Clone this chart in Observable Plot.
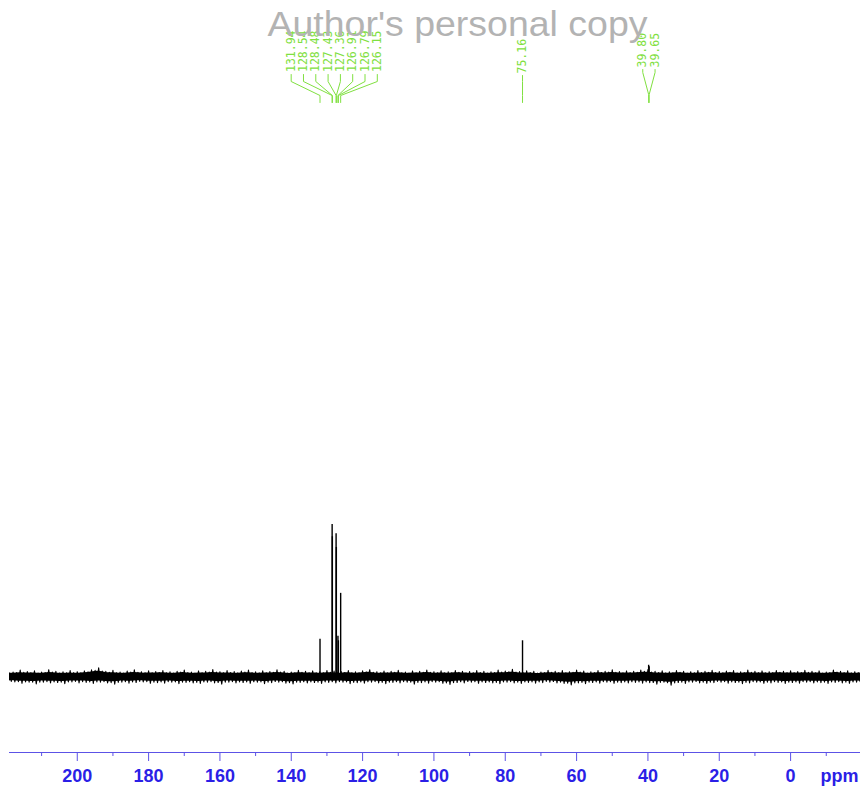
<!DOCTYPE html>
<html><head><meta charset="utf-8">
<script src="https://cdn.jsdelivr.net/npm/d3@7"></script>
<script src="https://cdn.jsdelivr.net/npm/@observablehq/plot@0.6"></script>
<style>body{margin:0;background:#fff}#chart{position:relative;width:860px;height:788px}</style>
</head><body><div id="chart"></div>
<script>
// ---- data ----
const peakPpm    = [131.94, 128.54, 128.48, 127.43, 127.36, 126.91, 126.79, 126.15, 75.16, 39.80, 39.65];
const peakHeight = [25, 100, 92, 94, 85, 27, 24, 55, 24, 8, 7];
const peakLabels = ["131.94","128.54","128.48","127.43","127.36","126.91","126.79","126.15","75.16","39.80","39.65"];
const peakGroup  = [0, 0, 0, 0, 0, 0, 0, 0, 1, 2, 2];

// baseline noise envelope, sampled every 2 ppm from 220 to -20
const noisePpm = d3.range(220, -21, -2);
const noiseUpper = [
  4.2,3.6,4.8,3.9,4.4,3.5,5.1,4.0,3.7,4.6,3.8,
  4.3,5.0,6.4,4.1,4.7,3.6,4.2,5.0,3.8,4.4,3.9,
  4.6,3.7,4.1,4.9,3.6,4.3,4.0,5.2,3.8,4.5,3.9,
  4.2,4.8,3.7,4.4,3.9,5.0,4.1,3.6,4.7,4.0,4.3,
  3.8,4.5,4.2,3.9,4.6,3.7,4.4,5.1,3.8,4.2,4.0,
  4.7,3.6,4.3,4.0,4.9,3.8,4.4,3.7,4.6,4.1,3.9,
  4.5,4.0,3.7,4.8,4.2,5.3,3.9,4.4,4.1,3.6,4.7,
  4.0,4.5,3.8,4.9,4.2,3.7,4.6,4.0,5.0,3.9,4.3,
  4.1,4.8,5.2,4.0,4.4,3.7,4.6,4.1,3.8,4.5,4.0,
  4.7,3.9,4.2,4.5,3.7,4.8,4.0,4.3,3.8,4.6,4.1,
  4.4,3.9,4.7,4.0,4.3,3.6,4.9,4.1,4.4,3.8,4.2
];
const noiseLower = [
  -3.4,-2.9,-3.8,-3.1,-4.2,-3.0,-3.6,-3.3,-4.0,-2.9,-3.5,
  -3.2,-3.9,-3.0,-3.6,-4.4,-3.1,-3.7,-3.3,-2.9,-3.8,-3.4,
  -3.7,-3.0,-4.1,-3.2,-3.6,-3.9,-3.1,-3.5,-4.3,-3.0,-3.6,
  -3.3,-3.8,-3.0,-4.0,-3.4,-3.1,-3.7,-4.2,-3.2,-3.6,-3.3,
  -3.9,-3.2,-3.6,-3.0,-4.1,-3.4,-3.7,-3.1,-3.5,-4.0,-3.2,
  -3.6,-3.1,-4.3,-3.4,-3.7,-3.0,-3.8,-4.6,-3.3,-3.5,-3.0,
  -3.8,-3.3,-3.6,-4.0,-3.1,-3.5,-3.9,-3.2,-3.7,-3.4,-3.0,
  -3.5,-3.9,-4.8,-3.6,-4.1,-3.3,-3.7,-3.0,-3.8,-3.4,-3.6,
  -3.2,-3.7,-3.4,-4.4,-3.1,-5.0,-3.3,-3.9,-3.0,-3.5,-3.8,
  -3.4,-3.0,-3.7,-3.3,-4.0,-3.5,-3.1,-3.8,-3.6,-3.2,-3.9,
  -3.3,-3.7,-3.0,-3.6,-3.4,-3.9,-3.2,-3.5,-3.8,-3.1,-3.6
];

const majorTicks = [200, 180, 160, 140, 120, 100, 80, 60, 40, 20, 0];
const minorTicks = [210, 190, 170, 150, 130, 110, 90, 70, 50, 30, 10, -10];
const axisUnit = "ppm";
const watermark = "Author's personal copy";

// ---- layout / style ----
const BASE_PX = 677, PX_PER_UNIT = 1.53, PLOT_BOTTOM = 752;
const yAt = p => (BASE_PX - p) / PX_PER_UNIT;
const green = "#80e040";
const axisText = "#2b1fe6";
const axisLine = "#5c52e6";
const labelSpacing = 3.45; // ppm between adjacent labels
const groupLayout = [
  {textBottom: 71.5, top: 74, knee1: 81, knee2: 95, bottom: 102},
  {textBottom: 73,   top: 75, knee1: 81, knee2: 95, bottom: 102},
  {textBottom: 67,   top: 69, knee1: 72, knee2: 94, bottom: 102}
];

const peaks = peakPpm.map((p, i) => ({ppm: p, h: peakHeight[i], label: peakLabels[i], g: peakGroup[i], id: i}));
const groups = d3.group(peaks, d => d.g);
for (const [g, arr] of groups) {
  const c = d3.mean(arr, d => d.ppm), n = arr.length;
  arr.forEach((d, k) => { d.lx = c + ((n - 1) / 2 - k) * labelSpacing; });
}
const connectors = peaks.flatMap(d => {
  const L = groupLayout[d.g];
  return [
    {id: d.id, x: d.lx, y: yAt(L.top)},
    {id: d.id, x: d.lx, y: yAt(L.knee1)},
    {id: d.id, x: d.ppm, y: yAt(L.knee2)},
    {id: d.id, x: d.ppm, y: yAt(L.bottom)}
  ];
});
const noise = noisePpm.map((p, i) => ({ppm: p, hi: noiseUpper[i], lo: noiseLower[i]}));
// trace zig-zagging between the upper and lower envelope readings
const noiseTrace = noise.flatMap((d, i) => {
  const nx = noise[i + 1];
  const pts = [{ppm: d.ppm, v: d.hi}, {ppm: d.ppm - 0.5, v: d.lo}];
  if (nx) pts.push({ppm: d.ppm - 1, v: (d.hi + nx.hi) / 2 - 1}, {ppm: d.ppm - 1.5, v: (d.lo + nx.lo) / 2 + 0.6});
  return pts;
});

const chart = Plot.plot({
  width: 860, height: 788,
  marginLeft: 9, marginRight: 0, marginTop: 0, marginBottom: 36,
  x: {domain: [219, -19.6], axis: null},
  y: {domain: [yAt(PLOT_BOTTOM), yAt(0)], axis: null},
  style: {fontFamily: "'Liberation Sans', Arial, sans-serif", background: "#fff", overflow: "visible"},
  marks: [
    Plot.areaY(noise, {x: "ppm", y1: d => d.lo * 0.7, y2: d => d.hi * 0.7, fill: "#000", curve: "basis", clip: true}),
    Plot.line(noiseTrace, {x: "ppm", y: "v", stroke: "#000", strokeWidth: 1.1, clip: true}),
    Plot.ruleX(peaks, {x: "ppm", y1: 0, y2: "h", stroke: "#000", strokeWidth: 1.4}),
    Plot.line(connectors, {x: "x", y: "y", z: "id", stroke: green, strokeWidth: 1}),
    Plot.text(peaks, {x: "lx", y: d => yAt(groupLayout[d.g].textBottom), text: "label", rotate: -90,
      textAnchor: "start", lineAnchor: "middle", fontFamily: "'DejaVu Sans Mono', monospace", fontSize: 11.5, fill: green}),
    Plot.text([watermark], {frameAnchor: "top", dx: 22.5, dy: 24, lineAnchor: "middle", fontSize: 35, fill: "#b3b3b3",
      className: "watermark"}),
    Plot.frame({anchor: "bottom", stroke: axisLine}),
    Plot.axisX({ticks: minorTicks, tickSize: 4, tickFormat: () => "", stroke: axisLine, label: null}),
    Plot.axisX({ticks: majorTicks, tickSize: 9, tickPadding: 8, stroke: axisLine, fill: axisText,
      fontSize: 18, fontWeight: "bold", label: null}),
    Plot.text([axisUnit], {frameAnchor: "bottom-right", dx: -2, dy: 17, lineAnchor: "top", textAnchor: "end",
      fontSize: 18, fontWeight: "bold", fill: axisText})
  ]
});
const wm = chart.querySelector(".watermark text");
if (wm) { wm.setAttribute("textLength", 380); wm.setAttribute("lengthAdjust", "spacingAndGlyphs"); }
document.getElementById("chart").appendChild(chart);
</script>
</body></html>
